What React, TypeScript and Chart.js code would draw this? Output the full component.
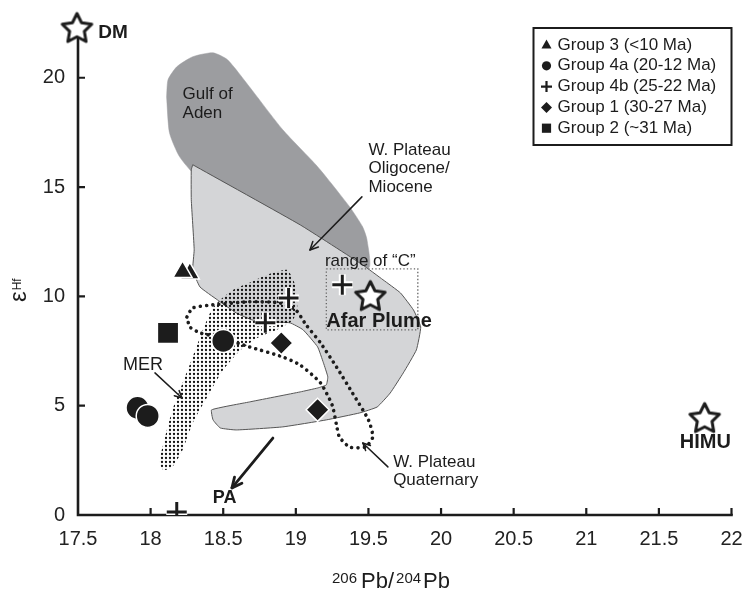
import React, { useEffect, useRef } from 'react';
import { Chart, registerables } from 'chart.js';

Chart.register(...registerables);

// ---------- data ----------
const xTicks = [17.5, 18, 18.5, 19, 19.5, 20, 20.5, 21, 21.5, 22];
const yTicks = [0, 5, 10, 15, 20];

const gulfOfAden = [
  { x: 18.11, y: 19.13 }, { x: 18.12, y: 19.91 }, { x: 18.18, y: 20.5 }, { x: 18.29, y: 20.96 },
  { x: 18.43, y: 21.14 }, { x: 18.53, y: 20.82 }, { x: 18.68, y: 19.59 }, { x: 18.91, y: 17.62 },
  { x: 19.15, y: 15.93 }, { x: 19.37, y: 14.1 }, { x: 19.46, y: 13.18 }, { x: 19.49, y: 12.59 },
  { x: 19.5, y: 11.3 }, { x: 19.03, y: 12.59 }, { x: 18.34, y: 15.33 }, { x: 18.2, y: 16.38 },
  { x: 18.13, y: 17.48 }, { x: 18.11, y: 19.13 },
];

const wPlateauOligoMio = [
  { x: 18.29, y: 16.02 }, { x: 19.03, y: 13.27 }, { x: 19.46, y: 11.44 }, { x: 19.6, y: 10.76 },
  { x: 19.72, y: 10.16 }, { x: 19.81, y: 9.38 }, { x: 19.86, y: 8.6 }, { x: 19.83, y: 7.55 },
  { x: 19.74, y: 6.5 }, { x: 19.65, y: 5.58 }, { x: 19.56, y: 4.94 }, { x: 19.44, y: 4.67 },
  { x: 19.21, y: 4.35 }, { x: 18.91, y: 4.03 }, { x: 18.59, y: 3.89 }, { x: 18.48, y: 3.98 },
  { x: 18.43, y: 4.35 }, { x: 18.42, y: 4.81 }, { x: 18.68, y: 5.17 }, { x: 19.03, y: 5.63 },
  { x: 19.15, y: 5.81 }, { x: 19.21, y: 5.95 }, { x: 19.22, y: 6.32 }, { x: 19.19, y: 6.96 },
  { x: 19.15, y: 7.69 }, { x: 19.05, y: 8.47 }, { x: 18.96, y: 8.79 }, { x: 18.82, y: 8.83 },
  { x: 18.7, y: 8.92 }, { x: 18.59, y: 9.24 }, { x: 18.46, y: 9.84 }, { x: 18.34, y: 10.43 },
  { x: 18.29, y: 11.21 }, { x: 18.3, y: 12.13 }, { x: 18.28, y: 14.42 }, { x: 18.28, y: 15.79 },
  { x: 18.29, y: 16.02 },
];

const merField = [
  { x: 18.68, y: 10.62 }, { x: 18.8, y: 10.98 }, { x: 18.94, y: 11.21 }, { x: 18.99, y: 10.62 },
  { x: 19.01, y: 9.52 }, { x: 18.98, y: 8.92 }, { x: 18.87, y: 8.47 }, { x: 18.75, y: 8.15 },
  { x: 18.62, y: 7.55 }, { x: 18.5, y: 6.64 }, { x: 18.39, y: 5.4 }, { x: 18.29, y: 4.21 },
  { x: 18.22, y: 2.97 }, { x: 18.15, y: 2.2 }, { x: 18.09, y: 2.06 }, { x: 18.06, y: 2.38 },
  { x: 18.09, y: 3.3 }, { x: 18.15, y: 4.81 }, { x: 18.22, y: 6.04 }, { x: 18.29, y: 7.23 },
  { x: 18.36, y: 8.47 }, { x: 18.42, y: 9.38 }, { x: 18.48, y: 9.84 }, { x: 18.57, y: 10.3 },
  { x: 18.68, y: 10.62 },
];

const wPlateauQuaternary = [
  { x: 18.25, y: 9.06 }, { x: 18.29, y: 9.47 }, { x: 18.43, y: 9.61 }, { x: 18.68, y: 9.75 },
  { x: 18.89, y: 9.7 }, { x: 19.0, y: 9.38 }, { x: 19.07, y: 8.7 }, { x: 19.17, y: 7.87 },
  { x: 19.28, y: 6.77 }, { x: 19.39, y: 5.58 }, { x: 19.5, y: 4.35 }, { x: 19.53, y: 3.57 },
  { x: 19.48, y: 3.11 }, { x: 19.37, y: 3.11 }, { x: 19.3, y: 3.57 }, { x: 19.28, y: 4.12 },
  { x: 19.25, y: 5.03 }, { x: 19.17, y: 6.04 }, { x: 19.03, y: 6.86 }, { x: 18.91, y: 7.23 },
  { x: 18.68, y: 7.69 }, { x: 18.46, y: 8.15 }, { x: 18.34, y: 8.33 }, { x: 18.27, y: 8.6 },
  { x: 18.25, y: 9.06 },
];

const rangeC = [
  { x: 19.21, y: 11.26 }, { x: 19.84, y: 11.26 }, { x: 19.84, y: 8.47 }, { x: 19.21, y: 8.47 }, { x: 19.21, y: 11.26 },
];

const group3 = [{ x: 18.27, y: 11.05 }, { x: 18.22, y: 11.12 }];
const group4a = [{ x: 18.5, y: 7.96 }, { x: 17.91, y: 4.9 }, { x: 17.98, y: 4.53 }];
const group4b = [{ x: 19.32, y: 10.53 }, { x: 18.95, y: 9.93 }, { x: 18.79, y: 8.79 }, { x: 18.18, y: 0.14 }];
const group1 = [{ x: 18.9, y: 7.87 }, { x: 19.15, y: 4.81 }];
const group2 = [{ x: 18.12, y: 8.33 }];
const endMembers = [{ x: 17.493, y: 22.23 }, { x: 19.513, y: 9.97 }, { x: 21.815, y: 4.39 }];

const legendLabels = ['Group 3 (<10 Ma)', 'Group 4a (20-12 Ma)', 'Group 4b (25-22 Ma)', 'Group 1 (30-27 Ma)', 'Group 2 (~31 Ma)'];
const legendMarkers = ['triangle', 'circle', 'cross', 'diamond', 'square'];

const textLabels = [
  { lines: ['Gulf of', 'Aden'], x: 18.22, y: 19.22, size: 17 },
  { lines: ['W. Plateau', 'Oligocene/', 'Miocene'], x: 19.5, y: 16.7, size: 17 },
  { lines: ['range of “C”'], x: 19.2, y: 11.62, size: 17 },
  { lines: ['MER'], x: 17.81, y: 6.86, size: 18 },
  { lines: ['W. Plateau', 'Quaternary'], x: 19.67, y: 2.43, size: 17 },
];
const boldLabels = [
  { text: 'DM', x: 17.64, y: 22.06, align: 'left', size: 19 },
  { text: 'Afar Plume', x: 19.21, y: 8.83, align: 'left', size: 20 },
  { text: 'HIMU', x: 21.82, y: 3.3, align: 'center', size: 20 },
  { text: 'PA', x: 18.51, y: 0.78, align: 'center', size: 18 },
];
const arrows = [
  { from: [19.455, 14.55], to: [19.097, 12.12], w: 1.5, head: 9 },
  { from: [18.03, 6.5], to: [18.216, 5.35], w: 1.5, head: 8 },
  { from: [19.634, 2.2], to: [19.461, 3.29], w: 1.5, head: 8 },
  { from: [18.842, 3.52], to: [18.56, 1.24], w: 2.8, head: 11 },
];

// ---------- helpers ----------
const FONT = '"Liberation Sans", Arial, Helvetica, sans-serif';
const INK = '#1c1c1c';

function makeStar(R: number, ratio: number, lw: number) {
  const size = Math.ceil(2 * R + lw * 2 + 4);
  const c = document.createElement('canvas');
  c.width = size;
  c.height = size;
  const g = c.getContext('2d')!;
  const cx = size / 2, cy = size / 2;
  g.beginPath();
  for (let i = 0; i < 10; i++) {
    const r = i % 2 === 0 ? R : R * ratio;
    const a = -Math.PI / 2 + (i * Math.PI) / 5;
    const px = cx + r * Math.cos(a), py = cy + r * Math.sin(a);
    if (i === 0) g.moveTo(px, py); else g.lineTo(px, py);
  }
  g.closePath();
  g.fillStyle = '#fff';
  g.fill();
  g.lineWidth = lw;
  g.lineJoin = 'round';
  g.strokeStyle = INK;
  g.stroke();
  return c;
}

function makeDots(ctx: CanvasRenderingContext2D) {
  const c = document.createElement('canvas');
  c.width = 4;
  c.height = 4;
  const g = c.getContext('2d')!;
  g.fillStyle = '#111';
  g.beginPath();
  g.arc(2, 2, 1.15, 0, Math.PI * 2);
  g.fill();
  return ctx.createPattern(c, 'repeat');
}

function drawArrow(ctx: CanvasRenderingContext2D, x1: number, y1: number, x2: number, y2: number, lw: number, head: number) {
  ctx.save();
  ctx.strokeStyle = INK;
  ctx.lineWidth = lw;
  ctx.lineCap = 'round';
  ctx.lineJoin = 'round';
  ctx.beginPath();
  ctx.moveTo(x1, y1);
  ctx.lineTo(x2, y2);
  ctx.stroke();
  const a = Math.atan2(y2 - y1, x2 - x1);
  ctx.beginPath();
  ctx.moveTo(x2 - head * Math.cos(a - 0.45), y2 - head * Math.sin(a - 0.45));
  ctx.lineTo(x2, y2);
  ctx.lineTo(x2 - head * Math.cos(a + 0.45), y2 - head * Math.sin(a + 0.45));
  ctx.stroke();
  ctx.restore();
}

function legendMarker(ctx: CanvasRenderingContext2D, kind: string, x: number, y: number) {
  ctx.save();
  ctx.fillStyle = INK;
  ctx.strokeStyle = INK;
  ctx.beginPath();
  if (kind === 'triangle') {
    ctx.moveTo(x, y - 5.5);
    ctx.lineTo(x + 5, y + 3.5);
    ctx.lineTo(x - 5, y + 3.5);
    ctx.closePath();
    ctx.fill();
  } else if (kind === 'circle') {
    ctx.arc(x, y, 4.6, 0, Math.PI * 2);
    ctx.fill();
  } else if (kind === 'cross') {
    ctx.lineWidth = 2.2;
    ctx.moveTo(x - 5.5, y);
    ctx.lineTo(x + 5.5, y);
    ctx.moveTo(x, y - 5.5);
    ctx.lineTo(x, y + 5.5);
    ctx.stroke();
  } else if (kind === 'diamond') {
    ctx.moveTo(x, y - 5.5);
    ctx.lineTo(x + 5.5, y);
    ctx.lineTo(x, y + 5.5);
    ctx.lineTo(x - 5.5, y);
    ctx.closePath();
    ctx.fill();
  } else {
    ctx.rect(x - 4.6, y - 4.6, 9.2, 9.2);
    ctx.fill();
  }
  ctx.restore();
}

const overlay = {
  id: 'overlay',
  beforeDatasetsDraw(chart: any) {
    const { ctx, chartArea: a, scales } = chart;
    const sx = scales.x, sy = scales.y;
    ctx.save();
    ctx.strokeStyle = INK;
    ctx.lineWidth = 2.6;
    ctx.lineCap = 'square';
    ctx.beginPath();
    ctx.moveTo(a.left, a.top);
    ctx.lineTo(a.left, a.bottom);
    ctx.lineTo(a.right, a.bottom);
    ctx.stroke();
    ctx.lineWidth = 2.2;
    ctx.lineCap = 'butt';
    ctx.beginPath();
    xTicks.forEach((v) => {
      if (v === xTicks[0]) return;
      const px = sx.getPixelForValue(v);
      ctx.moveTo(px, a.bottom);
      ctx.lineTo(px, a.bottom - 7);
    });
    yTicks.forEach((v) => {
      if (v === yTicks[0]) return;
      const py = sy.getPixelForValue(v);
      ctx.moveTo(a.left, py);
      ctx.lineTo(a.left + 7, py);
    });
    ctx.stroke();
    ctx.restore();
  },
  afterDatasetsDraw(chart: any) {
    const { ctx, chartArea: a, scales } = chart;
    const sx = scales.x, sy = scales.y;
    ctx.save();
    ctx.fillStyle = INK;
    ctx.textBaseline = 'middle';

    textLabels.forEach((t) => {
      ctx.font = `${t.size}px ${FONT}`;
      ctx.textAlign = 'left';
      const x = sx.getPixelForValue(t.x);
      const y = sy.getPixelForValue(t.y);
      t.lines.forEach((ln, i) => ctx.fillText(ln, x, y + i * 18.5));
    });

    boldLabels.forEach((t) => {
      ctx.font = `bold ${t.size}px ${FONT}`;
      ctx.textAlign = t.align as CanvasTextAlign;
      ctx.fillText(t.text, sx.getPixelForValue(t.x), sy.getPixelForValue(t.y));
    });

    arrows.forEach((r) => {
      drawArrow(ctx, sx.getPixelForValue(r.from[0]), sy.getPixelForValue(r.from[1]),
        sx.getPixelForValue(r.to[0]), sy.getPixelForValue(r.to[1]), r.w, r.head);
    });

    // legend
    const bx = a.right - 198, by = a.top - 6, bw = 198, bh = 117;
    ctx.fillStyle = '#fff';
    ctx.fillRect(bx, by, bw, bh);
    ctx.strokeStyle = INK;
    ctx.lineWidth = 2;
    ctx.strokeRect(bx, by, bw, bh);
    ctx.font = `17px ${FONT}`;
    ctx.textAlign = 'left';
    legendLabels.forEach((lab, i) => {
      const cy = by + 17 + i * 20.8;
      legendMarker(ctx, legendMarkers[i], bx + 13, cy);
      ctx.fillStyle = INK;
      ctx.fillText(lab, bx + 24, cy);
    });

    // x axis title
    ctx.textBaseline = 'alphabetic';
    ctx.fillStyle = INK;
    let x = a.left + 254;
    const yb = 588;
    ctx.font = `15px ${FONT}`;
    ctx.fillText('206', x, yb - 5);
    x += ctx.measureText('206').width + 4;
    ctx.font = `22px ${FONT}`;
    ctx.fillText('Pb/', x, yb);
    x += ctx.measureText('Pb/').width + 2;
    ctx.font = `15px ${FONT}`;
    ctx.fillText('204', x, yb - 5);
    x += ctx.measureText('204').width + 2;
    ctx.font = `22px ${FONT}`;
    ctx.fillText('Pb', x, yb);

    // y axis title
    ctx.translate(26, 302);
    ctx.rotate(-Math.PI / 2);
    ctx.font = `24px ${FONT}`;
    ctx.fillText('ε', 0, 0);
    const w = ctx.measureText('ε').width;
    ctx.font = `12px ${FONT}`;
    ctx.fillText('Hf', w + 1, -5);
    ctx.restore();
  },
};

export default function App() {
  const ref = useRef<HTMLCanvasElement>(null);

  useEffect(() => {
    const canvas = ref.current!;
    const ctx2d = canvas.getContext('2d')!;
    const star = makeStar(15.5, 0.5, 3);
    const dots = makeDots(ctx2d);

    const poly = (data: any[], extra: any) => ({
      type: 'line',
      data,
      pointRadius: 0,
      pointHoverRadius: 0,
      tension: 0.2,
      ...extra,
    });
    const marks = (data: any[], extra: any) => ({
      type: 'scatter',
      data,
      backgroundColor: INK,
      borderColor: '#fff',
      borderWidth: 1.5,
      ...extra,
    });

    const chart = new Chart(canvas, {
      type: 'scatter',
      data: {
        datasets: [
          poly(gulfOfAden, { label: 'Gulf of Aden', fill: 'shape', backgroundColor: '#9c9da0', borderColor: '#9c9da0', borderWidth: 0.5, order: 20 }),
          poly(wPlateauOligoMio, { label: 'W. Plateau Oligocene/Miocene', fill: 'shape', backgroundColor: '#d4d5d7', borderColor: '#555', borderWidth: 1, tension: 0.12, order: 19 }),
          poly(merField, { label: 'MER', fill: 'shape', backgroundColor: dots, borderColor: 'rgba(0,0,0,0)', borderWidth: 0, order: 18 }),
          poly(wPlateauQuaternary, { label: 'W. Plateau Quaternary', fill: false, borderColor: INK, borderWidth: 3.6, borderDash: [0.01, 6.2], borderCapStyle: 'round', order: 17 }),
          poly(rangeC, { label: 'range of C', fill: false, tension: 0, borderColor: '#666', borderWidth: 1.3, borderDash: [1.3, 2.2], order: 16 }),
          marks(group3, { label: 'Group 3', pointStyle: 'triangle', pointRadius: 11, order: 10 }),
          marks(group4a, { label: 'Group 4a', pointStyle: 'circle', pointRadius: 11.5, order: 9 }),
          marks(group4b, { label: 'Group 4b halo', pointStyle: 'cross', pointRadius: 10.5, borderColor: '#fff', borderWidth: 7, order: 8 }),
          marks(group4b, { label: 'Group 4b', pointStyle: 'cross', pointRadius: 10, borderColor: INK, borderWidth: 3, order: 7 }),
          marks(group1, { label: 'Group 1', pointStyle: 'rectRot', pointRadius: 11.5, order: 6 }),
          marks(group2, { label: 'Group 2', pointStyle: 'rect', pointRadius: 14, borderWidth: 0, order: 5 }),
          { type: 'scatter', label: 'End members', data: endMembers, pointStyle: star, pointRadius: 16, clip: false, order: 1 },
        ] as any,
      },
      options: {
        animation: false,
        responsive: false,
        events: [],
        layout: { padding: { top: 34, right: 16, left: 0, bottom: 0 } },
        plugins: { legend: { display: false }, tooltip: { enabled: false } },
        scales: {
          x: {
            type: 'linear',
            min: 17.5,
            max: 22,
            afterFit: (s: any) => { s.height = 75; s.paddingLeft = 0; s.paddingRight = 0; },
            afterBuildTicks: (s: any) => { s.ticks = xTicks.map((v) => ({ value: v })); },
            grid: { display: false, drawTicks: false },
            border: { display: false },
            ticks: { font: { family: FONT, size: 20 }, color: '#222', padding: 12, maxRotation: 0, autoSkip: false, callback: (v: any) => String(v) },
          },
          y: {
            type: 'linear',
            min: 0,
            max: 22,
            afterFit: (s: any) => { s.width = 78; s.paddingTop = 0; s.paddingBottom = 0; },
            afterBuildTicks: (s: any) => { s.ticks = yTicks.map((v) => ({ value: v })); },
            grid: { display: false, drawTicks: false },
            border: { display: false },
            ticks: { font: { family: FONT, size: 20 }, color: '#222', padding: 13, autoSkip: false, callback: (v: any) => String(v) },
          },
        },
      } as any,
      plugins: [overlay],
    });
    return () => chart.destroy();
  }, []);

  return (
    <div style={{ position: 'absolute', left: 0, top: 0, width: 749, height: 590 }}>
      <canvas ref={ref} width={749} height={590} style={{ display: 'block', width: 749, height: 590 }} />
    </div>
  );
}
